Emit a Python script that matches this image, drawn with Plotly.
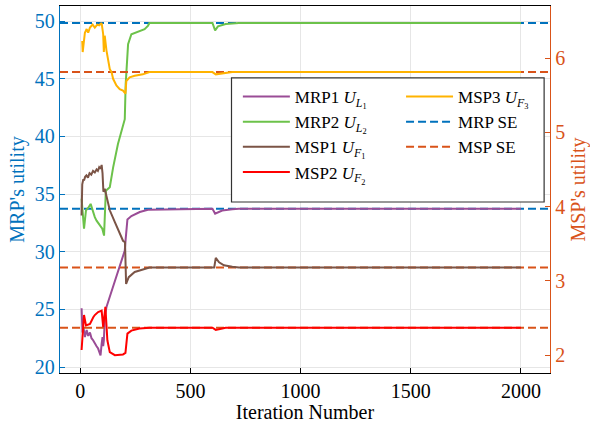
import plotly.graph_objects as go

# ---------------- data ----------------
mrp1_x = [6, 10, 15, 21, 29, 36, 44, 51, 59, 66, 74, 81, 88, 92, 97, 101, 104, 107, 112, 119, 134, 157, 179, 202, 206, 214, 232, 270, 307, 600, 612, 644, 690, 720, 2000]
mrp1_y = [25.1, 23.0, 23.4, 22.6, 23.2, 22.7, 23.0, 22.5, 22.3, 22.0, 21.8, 21.6, 21.3, 21.0, 22.0, 22.6, 21.8, 22.3, 24.5, 25.2, 26.1, 27.5, 28.7, 30.1, 31.1, 32.8, 33.1, 33.45, 33.65, 33.72, 33.3, 33.58, 33.68, 33.72, 33.72]

mrp2_x = [6, 17, 26, 36, 47, 59, 66, 74, 89, 100, 108, 116, 134, 149, 171, 187, 202, 206, 217, 232, 270, 292, 307, 314, 600, 612, 625, 660, 720, 2000]
mrp2_y = [34.6, 32.0, 33.6, 33.8, 34.15, 33.3, 33.0, 32.7, 32.3, 32.0, 31.4, 35.3, 35.6, 37.3, 39.35, 40.5, 41.5, 44.5, 48.0, 48.87, 49.16, 49.31, 49.6, 49.85, 49.85, 49.2, 49.55, 49.75, 49.85, 49.85]

msp1_x = [6, 9, 14, 17, 22, 28, 35, 42, 50, 58, 66, 74, 80, 86, 92, 97, 101, 105, 111, 119, 134, 157, 179, 194, 203, 208, 220, 247, 292, 314, 608, 615, 630, 652, 690, 720, 2000]
msp1_y = [3.88, 4.30, 4.37, 4.35, 4.40, 4.42, 4.39, 4.45, 4.43, 4.48, 4.46, 4.50, 4.48, 4.53, 4.51, 4.56, 4.45, 4.20, 4.24, 4.13, 3.95, 3.79, 3.63, 3.54, 3.52, 2.96, 3.05, 3.12, 3.16, 3.18, 3.18, 3.31, 3.25, 3.21, 3.19, 3.18, 3.18]

msp2_x = [6, 17, 26, 44, 59, 66, 81, 97, 104, 114, 123, 134, 157, 194, 205, 214, 232, 269, 314, 600, 615, 660, 2000]
msp2_y = [2.07, 2.54, 2.40, 2.42, 2.51, 2.54, 2.58, 2.60, 2.38, 2.65, 2.20, 2.04, 2.00, 2.01, 2.03, 2.29, 2.33, 2.36, 2.37, 2.37, 2.34, 2.37, 2.37]

msp3_x = [9, 11, 21, 29, 36, 44, 56, 66, 77, 86, 97, 104, 107, 111, 119, 126, 134, 142, 149, 164, 179, 194, 205, 209, 224, 247, 284, 314, 600, 615, 690, 2000]
msp3_y = [6.23, 6.08, 6.34, 6.39, 6.34, 6.41, 6.45, 6.41, 6.45, 6.44, 6.47, 6.32, 6.08, 6.30, 6.10, 5.99, 5.85, 5.81, 5.72, 5.63, 5.58, 5.56, 5.52, 5.69, 5.74, 5.76, 5.78, 5.81, 5.81, 5.78, 5.81, 5.81]

mrp_se = [49.85, 33.72]
msp_se = [5.81, 3.18, 2.37]

x_range = [-92, 2132]
y1_range = [19.48, 51.32]
y2_range = [1.76, 6.70]
x_ticks = [0, 500, 1000, 1500, 2000]
y1_ticks = [20, 25, 30, 35, 40, 45, 50]
y2_ticks = [2, 3, 4, 5, 6]

BLUE = "#0072BD"
ORANGE = "#D95319"
FONT = "Liberation Serif"

fig = go.Figure()

def se_xy(vals):
    xs, ys = [], []
    for v in vals:
        xs += [x_range[0], x_range[1], None]
        ys += [v, v, None]
    return xs, ys

sx, sy = se_xy(mrp_se)
fig.add_trace(go.Scatter(x=sx, y=sy, mode="lines", name="MRP SE", yaxis="y",
                         line=dict(color=BLUE, width=2, dash="8px,4px"),
                         legend="legend2", legendrank=2))
sx, sy = se_xy(msp_se)
fig.add_trace(go.Scatter(x=sx, y=sy, mode="lines", name="MSP SE", yaxis="y2",
                         line=dict(color=ORANGE, width=2, dash="8px,4px"),
                         legend="legend2", legendrank=3))

fig.add_trace(go.Scatter(x=mrp1_x, y=mrp1_y, mode="lines", yaxis="y",
                         name="MRP1 <i>U</i><sub><i>L</i><sub>1</sub></sub>",
                         line=dict(color="#9A4C96", width=2), legend="legend", legendrank=1))
fig.add_trace(go.Scatter(x=mrp2_x, y=mrp2_y, mode="lines", yaxis="y",
                         name="MRP2 <i>U</i><sub><i>L</i><sub>2</sub></sub>",
                         line=dict(color="#6CC24A", width=2), legend="legend", legendrank=2))
fig.add_trace(go.Scatter(x=msp1_x, y=msp1_y, mode="lines", yaxis="y2",
                         name="MSP1 <i>U</i><sub><i>F</i><sub>1</sub></sub>",
                         line=dict(color="#7B5446", width=2), legend="legend", legendrank=3))
fig.add_trace(go.Scatter(x=msp2_x, y=msp2_y, mode="lines", yaxis="y2",
                         name="MSP2 <i>U</i><sub><i>F</i><sub>2</sub></sub>",
                         line=dict(color="#FF0000", width=2), legend="legend", legendrank=4))
fig.add_trace(go.Scatter(x=msp3_x, y=msp3_y, mode="lines", yaxis="y2",
                         name="MSP3 <i>U</i><sub><i>F</i><sub>3</sub></sub>",
                         line=dict(color="#FFB300", width=2), legend="legend2", legendrank=1))

leg_common = dict(font=dict(family=FONT, size=17, color="black"),
                  bgcolor="rgba(0,0,0,0)", borderwidth=0, itemwidth=47,
                  xanchor="left", yanchor="top", tracegroupgap=0)

fig.update_layout(
    width=590, height=423,
    margin=dict(l=60, r=37, t=5, b=50),
    paper_bgcolor="white", plot_bgcolor="white",
    font=dict(family=FONT, size=20, color="black"),
    legend=dict(x=0.363, y=0.801, **leg_common),
    legend2=dict(x=0.696, y=0.801, **leg_common),
    xaxis=dict(range=x_range, tickvals=x_ticks, ticks="inside", ticklen=5,
               tickcolor="black", showline=True, linecolor="black", linewidth=1.3,
               mirror=True, showgrid=True, gridcolor="#e6e6e6", zeroline=False,
               tickfont=dict(family=FONT, size=20, color="black"),
               title=dict(text="Iteration Number", standoff=2,
                          font=dict(family=FONT, size=20, color="black"))),
    yaxis=dict(range=y1_range, tickvals=y1_ticks, ticks="inside", ticklen=5,
               tickcolor=BLUE, showline=True, linecolor=BLUE, linewidth=1.3,
               showgrid=True, gridcolor="#e6e6e6", zeroline=False,
               tickfont=dict(family=FONT, size=20, color=BLUE),
               title=dict(text="MRP's utility", font=dict(family=FONT, color=BLUE, size=20), standoff=4)),
    yaxis2=dict(range=y2_range, tickvals=y2_ticks, ticks="inside", ticklen=5,
                tickcolor=ORANGE, showline=True, linecolor=ORANGE, linewidth=1.3,
                overlaying="y", side="right", showgrid=False, zeroline=False,
                tickfont=dict(family=FONT, size=20, color=ORANGE),
                title=dict(text="MSP's utility", font=dict(family=FONT, color=ORANGE, size=20), standoff=6)),
    shapes=[dict(type="rect", xref="paper", yref="paper", x0=0.35, x1=0.988,
                 y0=0.466, y1=0.804, line=dict(color="#333333", width=1.2),
                 fillcolor="white", layer="above")],
)

fig.write_html("out.html")
